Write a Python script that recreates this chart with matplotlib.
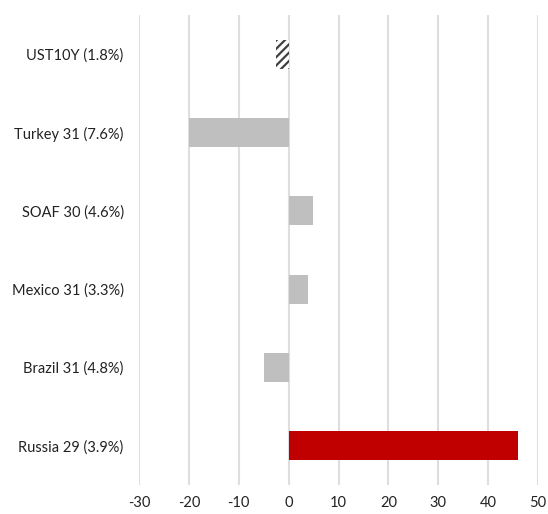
import matplotlib
matplotlib.use("Agg")
import matplotlib.pyplot as plt

categories = ["UST10Y (1.8%)", "Turkey 31 (7.6%)", "SOAF 30 (4.6%)",
              "Mexico 31 (3.3%)", "Brazil 31 (4.8%)", "Russia 29 (3.9%)"]
values = [-2.5, -20, 4.8, 3.8, -5, 46]
xticks = [-30, -20, -10, 0, 10, 20, 30, 40, 50]

plt.rcParams["font.family"] = ["Lato", "DejaVu Sans"]
plt.rcParams["hatch.linewidth"] = 1.6

fig = plt.figure(figsize=(5.48, 5.14), dpi=100)
ax = fig.add_axes([139 / 548, 1 - 485 / 514, (538 - 139) / 548, 470 / 514])

ypos = list(range(len(categories)))
for i, (cat, v) in enumerate(zip(categories, values)):
    if cat.startswith("UST"):
        ax.barh(i, v, height=0.37, color="white", hatch="////",
                edgecolor="#404040", linewidth=0, zorder=3)
    elif cat.startswith("Russia"):
        ax.barh(i, v, height=0.37, color="#C00000", zorder=3)
    else:
        ax.barh(i, v, height=0.37, color="#BFBFBF", zorder=3)

ax.set_xlim(-30, 50)
ax.set_ylim(len(categories) - 0.5, -0.5)
ax.set_xticks(xticks)
ax.set_xticklabels([str(t) for t in xticks], fontsize=10.5, color="#222222")
ax.set_yticks(ypos)
ax.set_yticklabels(categories, fontsize=10.5, color="#222222")
ax.tick_params(axis="both", length=0)
ax.tick_params(axis="x", pad=8)
ax.tick_params(axis="y", pad=11)
ax.grid(axis="x", color="#DEDEDE", linewidth=1.5, zorder=0)
for s in ax.spines.values():
    s.set_visible(False)

fig.savefig("out.png", dpi=100)
